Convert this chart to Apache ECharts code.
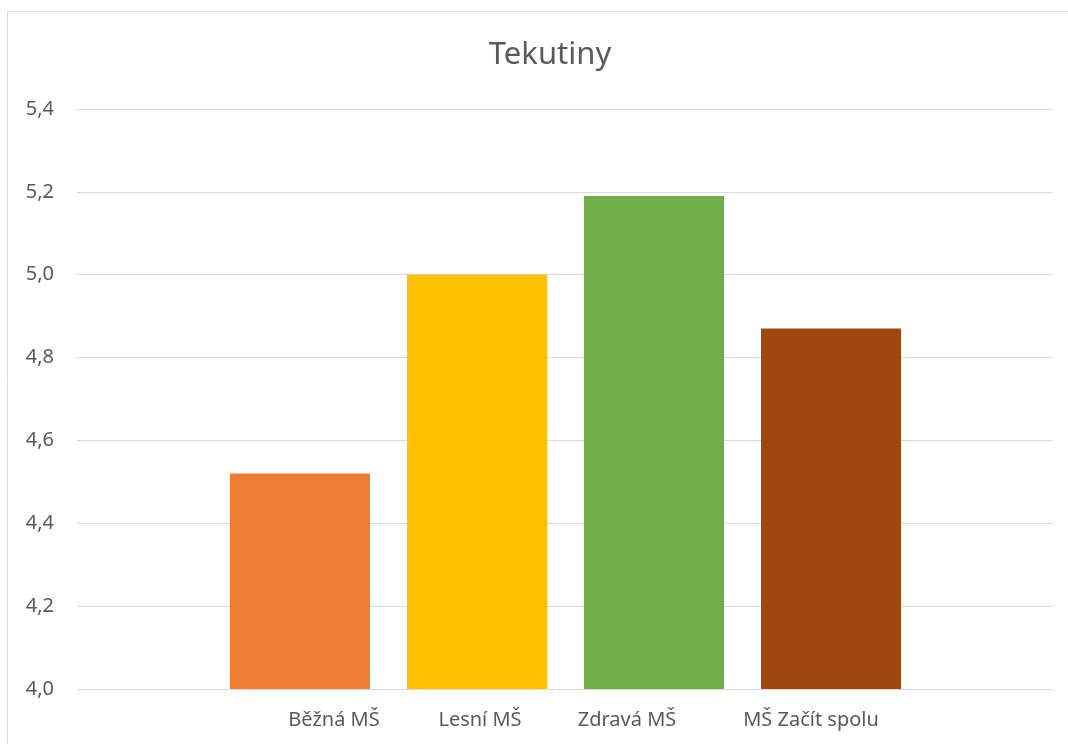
<!DOCTYPE html>
<html>
<head>
<meta charset="utf-8">
<script src="https://cdn.jsdelivr.net/npm/echarts@6/dist/echarts.min.js"></script>
<style>
  html, body { margin: 0; padding: 0; background: #fff; }
  #chart { width: 1068px; height: 744px; }
</style>
</head>
<body>
<div id="chart"></div>
<script>
const categories = ["Běžná MŠ", "Lesní MŠ", "Zdravá MŠ", "MŠ Začít spolu"];
const values = [4.52, 5.0, 5.19, 4.87];
const barColors = ["#ED7D31", "#FFC000", "#70AD47", "#9E480E"];
const yMin = 4.0;
const yMax = 5.4;
const yStep = 0.2;

const font = "'Noto Sans', sans-serif";
const textColor = "#595959";

// the category labels in the original sit a bit off their bars
const labelShift = [34, 3, -27, -20];
const labelRich = {};
labelShift.forEach((s, i) => {
  labelRich["c" + i] = {
    fontFamily: font,
    fontSize: 20,
    color: textColor,
    padding: s >= 0 ? [0, 0, 0, 2 * s] : [0, -2 * s, 0, 0]
  };
});

const chart = echarts.init(document.getElementById("chart"));
const option = {
  animation: false,
  title: {
    text: "Tekutiny",
    left: 545,
    textAlign: "center",
    top: 35,
    textStyle: { fontFamily: font, fontSize: 31, fontWeight: "normal", color: textColor }
  },
  graphic: [{
    type: "rect",
    shape: { x: 7.5, y: 11.5, width: 1100, height: 800 },
    style: { fill: "none", stroke: "#D9D9D9", lineWidth: 1 },
    silent: true
  }],
  grid: [
    { left: 77, right: 15, top: 109, bottom: 55 },
    { left: 211.5, right: 148.5, top: 109, bottom: 55 }
  ],
  xAxis: [
    { type: "value", gridIndex: 0, show: false, min: 0, max: 1 },
    {
      type: "category",
      gridIndex: 1,
      data: categories,
      axisLine: { show: false },
      axisTick: { show: false },
      axisLabel: {
        fontFamily: font,
        fontSize: 20,
        color: textColor,
        margin: 21,
        interval: 0,
        formatter: (v, i) => "{c" + i + "|" + v + "}",
        rich: labelRich
      }
    }
  ],
  yAxis: [
    {
      type: "value",
      gridIndex: 0,
      min: yMin,
      max: yMax,
      interval: yStep,
      axisLine: { show: false },
      axisTick: { show: false },
      splitLine: { lineStyle: { color: "#D9D9D9", width: 1 } },
      axisLabel: {
        fontFamily: font,
        fontSize: 20,
        color: textColor,
        margin: 23,
        formatter: v => v.toFixed(1).replace(".", ",")
      }
    },
    { type: "value", gridIndex: 1, min: yMin, max: yMax, show: false }
  ],
  series: [{
    type: "bar",
    xAxisIndex: 1,
    yAxisIndex: 1,
    barWidth: 140,
    data: values.map((v, i) => ({ value: v, itemStyle: { color: barColors[i] } }))
  }]
};
chart.setOption(option);
</script>
</body>
</html>
